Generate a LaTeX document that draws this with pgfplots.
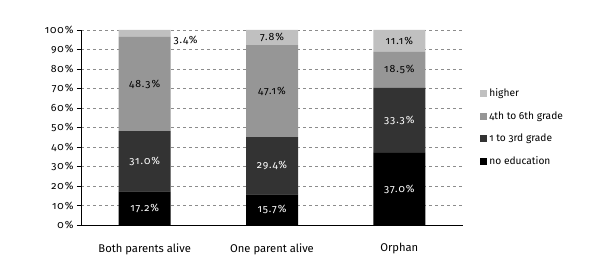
\documentclass[border=0pt]{standalone}
\usepackage{pgfplots}
\pgfplotsset{compat=1.18}
\usepackage{fontspec}
\setmainfont[Numbers=OldStyle]{Fira Sans}
\newfontfamily\numfont[Numbers=OldStyle, LetterSpace=9]{Fira Sans}
\definecolor{cHigh}{HTML}{C0C0C0}
\definecolor{cMid}{HTML}{969696}
\definecolor{cDark}{HTML}{333333}
\definecolor{cGrid}{HTML}{8C8C8C}
\begin{document}
\begin{tikzpicture}[font=\fontsize{10.5}{12}\selectfont]
\path[use as bounding box] (0,0) rectangle (605pt,278pt);
\begin{axis}[
  at={(81pt,53pt)}, anchor=south west,
  scale only axis, width=382pt, height=195pt,
  ybar stacked, bar width=52pt,
  xmin=-0.5, xmax=2.5, ymin=0, ymax=100,
  xtick={0,1,2}, xticklabels={Both parents alive, One parent alive, Orphan},
  x tick label style={yshift=-11pt, font=\fontsize{11.2}{12}\selectfont},
  major x tick style={draw=none},
  extra x ticks={-0.5,0.5,1.5,2.5}, extra x tick labels={},
  extra x tick style={major tick length=5pt, tick style={black}, tick align=outside, grid=none},
  ytick={0,10,...,100},
  yticklabel={\numfont\pgfmathprintnumber{\tick}\%},
  y tick label style={font=\fontsize{10.5}{12}\selectfont},
  /pgf/number format/assume math mode=true,
  ymajorgrids, grid style={cGrid, dashed, thin},
  axis x line*=bottom, axis y line*=left,
  axis line style={black, line width=0.9pt, -},
  y tick style={black}, tick align=outside, major tick length=4pt,
  legend style={at={(1.045,0.5)}, anchor=west, draw=none, fill=none,
    row sep=9.5pt, font=\fontsize{10.2}{12}\selectfont, inner sep=0pt},
  legend cell align=left, reverse legend,
  legend image code/.code={\fill[#1] (0pt,-3.5pt) rectangle (7pt,3.5pt);},
  after end axis/.code={
    \begin{scope}[every node/.style={font=\numfont\fontsize{10.5}{12}\selectfont}]
    \node[white] at (axis cs:0,8.6) {17.2\%};
    \node[white] at (axis cs:0,32.7) {31.0\%};
    \node[black] at (axis cs:0,72.35) {48.3\%};
    \node[black, anchor=west] at (axis cs:0.2,94.8) {3.4\%};
    \node[white] at (axis cs:1,7.85) {15.7\%};
    \node[white] at (axis cs:1,30.4) {29.4\%};
    \node[black] at (axis cs:1,68.65) {47.1\%};
    \node[black] at (axis cs:1,96.1) {7.8\%};
    \node[white] at (axis cs:2,18.5) {37.0\%};
    \node[white] at (axis cs:2,53.65) {33.3\%};
    \node[black] at (axis cs:2,79.55) {18.5\%};
    \node[black] at (axis cs:2,94.4) {11.1\%};
    \end{scope}
  },
]
\addplot[fill=black, draw=none] coordinates {(0,17.2) (1,15.7) (2,37.0)};
\addplot[fill=cDark, draw=none] coordinates {(0,31.0) (1,29.4) (2,33.3)};
\addplot[fill=cMid, draw=none] coordinates {(0,48.3) (1,47.1) (2,18.5)};
\addplot[fill=cHigh, draw=none] coordinates {(0,3.5) (1,7.8) (2,11.2)};
\legend{no education, 1 to 3rd grade, 4th to 6th grade, higher}
\end{axis}
\end{tikzpicture}
\end{document}
